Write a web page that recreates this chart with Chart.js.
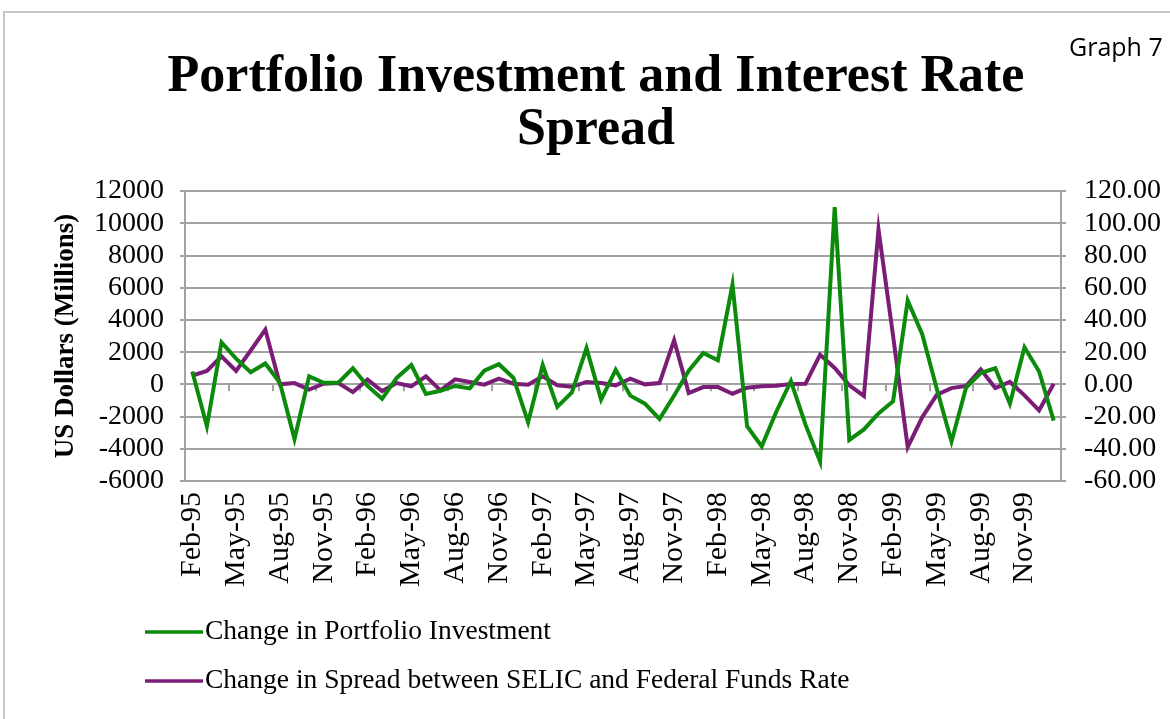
<!DOCTYPE html>
<html>
<head>
<meta charset="utf-8">
<title>Portfolio Investment and Interest Rate Spread</title>
<script src="https://cdn.jsdelivr.net/npm/chart.js@4.4.0/dist/chart.umd.min.js"></script>
<style>
  html, body { margin: 0; padding: 0; background: #fff; }
  #wrap { position: relative; width: 1170px; height: 719px; overflow: hidden; }
  #frame { position: absolute; left: 3px; top: 11px; width: 1300px; height: 800px;
           border-left: 2px solid #c8c8c8; border-top: 2px solid #c8c8c8; }
  #tag { position: absolute; left: 1069px; top: 29px; font: 25px "Open Sans", sans-serif; color: #000; }
  canvas { position: absolute; left: 0; top: 0; }
</style>
</head>
<body>
<div id="wrap">
  <div id="frame"></div>
  <canvas id="spreadChart" width="1170" height="719"></canvas>
  <div id="tag">Graph 7</div>
</div>
<script>
// Monthly changes, Feb-95 .. Jan-00
const monthNames = ['Jan', 'Feb', 'Mar', 'Apr', 'May', 'Jun', 'Jul', 'Aug', 'Sep', 'Oct', 'Nov', 'Dec'];
const months = [];
for (let k = 0; k < 60; k++) {
    const m = (1 + k) % 12;
    const yr = 95 + Math.floor((1 + k) / 12);
    months.push(monthNames[m] + '-' + String(yr % 100).padStart(2, '0'));
}

// US$ millions (left axis)
const portfolioChange = [
    800, -2600, 2600, 1600, 750, 1300, 100, -3400, 500, 100,
    100, 1000, -100, -900, 400, 1200, -600, -400, -100, -250,
    850, 1250, 400, -2350, 1200, -1400, -500, 2250, -950, 900,
    -700, -1200, -2150, -700, 850, 1950, 1500, 6200, -2600, -3850,
    -1700, 200, -2500, -4800, 11000, -3450, -2800, -1800, -1050, 5200,
    3100, -300, -3550, -200, 700, 1000, -1200, 2300, 800, -2250
];

// SELIC minus Fed Funds, change (right axis)
const spreadChange = [
    5.5, 8.3, 17.4, 8.3, 21, 34, 0, 0.8, -3.3, 0.4,
    0.8, -4.8, 2.9, -4.2, 0.8, -1.2, 5, -3.7, 3.1, 1.5,
    -0.2, 3.5, 0.4, -0.2, 5, -0.6, -1.5, 1.5, 0.8, -0.6,
    3.5, 0, 0.8, 27.4, -5.4, -1.7, -1.7, -5.8, -2.1, -1.2,
    -0.8, 0.2, 0.4, 18.4, 10.2, -0.6, -7.2, 96.2, 30, -39,
    -20.3, -6.4, -2.3, -1, 9.3, -2.3, 1.5, -6.8, -16.2, 0.4
];

const leftTicks = { min: -6000, max: 12000, step: 2000 };
const rightTicks = { min: -60, max: 120, step: 20 };

const gridGray = '#a3a3a3';
const serif = '"Liberation Serif", "Times New Roman", serif';

// small tick marks hanging from the zero line, one every quarter
const zeroLineTicks = {
    id: 'zeroLineTicks',
    beforeDatasetsDraw(chart) {
        const xs = chart.scales.x;
        const y0 = chart.scales.y.getPixelForValue(0);
        const step = xs.width / months.length;
        const ctx = chart.ctx;
        ctx.save();
        ctx.strokeStyle = gridGray;
        ctx.lineWidth = 2;
        for (let k = 3; k < months.length; k += 3) {
            const x = Math.round(xs.left + k * step);
            ctx.beginPath();
            ctx.moveTo(x, y0);
            ctx.lineTo(x, y0 + 7);
            ctx.stroke();
        }
        ctx.restore();
    }
};

// legend stacked below the axis labels
const stackedLegend = {
    id: 'stackedLegend',
    afterDraw(chart) {
        const ctx = chart.ctx;
        ctx.save();
        ctx.font = '27.5px ' + serif;
        ctx.textBaseline = 'middle';
        ctx.fillStyle = '#000';
        chart.data.datasets.forEach((ds, i) => {
            const y = 632 + i * 49;
            ctx.strokeStyle = ds.borderColor;
            ctx.lineWidth = 3.5;
            ctx.beginPath();
            ctx.moveTo(145, y);
            ctx.lineTo(203, y);
            ctx.stroke();
            ctx.fillText(ds.label, 205, y);
        });
        ctx.restore();
    }
};

const ctx = document.getElementById('spreadChart').getContext('2d');
new Chart(ctx, {
    type: 'line',
    data: {
        labels: months,
        datasets: [{
            label: 'Change in Portfolio Investment',
            data: portfolioChange,
            yAxisID: 'y',
            borderColor: '#0b8a0b',
            borderWidth: 4,
            pointRadius: 0,
            tension: 0,
            fill: false
        }, {
            label: 'Change in Spread between SELIC and Federal Funds Rate',
            data: spreadChange,
            yAxisID: 'y1',
            borderColor: '#7a1d77',
            borderWidth: 4,
            pointRadius: 0,
            tension: 0,
            fill: false
        }]
    },
    options: {
        responsive: false,
        animation: false,
        events: [],
        layout: { padding: { left: 22, right: 0, top: 0, bottom: 0 } },
        plugins: {
            legend: { display: false },
            tooltip: { enabled: false },
            title: {
                display: true,
                text: ['Portfolio Investment and Interest Rate', 'Spread'],
                color: '#000',
                font: { family: serif, size: 52, weight: 'bold', lineHeight: 1.02 },
                padding: { top: 51, bottom: 34 }
            }
        },
        scales: {
            x: {
                offset: true,
                grid: { display: false, drawTicks: false },
                border: { display: false },
                ticks: {
                    autoSkip: false,
                    minRotation: 90,
                    maxRotation: 90,
                    padding: 11,
                    color: '#000',
                    font: { family: serif, size: 30 },
                    callback: function (value, index) {
                        return index % 3 === 0 ? this.getLabelForValue(value) : '';
                    }
                },
                afterFit: (scale) => { scale.height = 719 - 481; }
            },
            y: {
                position: 'left',
                min: leftTicks.min,
                max: leftTicks.max,
                ticks: {
                    stepSize: leftTicks.step,
                    autoSkip: false,
                    padding: 16,
                    color: '#000',
                    font: { family: serif, size: 28 },
                    callback: (v) => String(v)
                },
                grid: { color: gridGray, lineWidth: 2, tickLength: 5 },
                border: { color: gridGray, width: 2 },
                title: {
                    display: true,
                    text: 'US Dollars (Millions)',
                    color: '#000',
                    font: { family: serif, size: 27, weight: 'bold' },
                    padding: { top: 28, bottom: 0 }
                },
                afterFit: (scale) => { scale.width = 163; }
            },
            y1: {
                position: 'right',
                min: rightTicks.min,
                max: rightTicks.max,
                ticks: {
                    stepSize: rightTicks.step,
                    autoSkip: false,
                    padding: 18,
                    color: '#000',
                    font: { family: serif, size: 28 },
                    callback: (v) => v.toFixed(2)
                },
                grid: { drawOnChartArea: false, color: gridGray, lineWidth: 2, tickLength: 5 },
                border: { color: gridGray, width: 2 },
                afterFit: (scale) => { scale.width = 109; }
            }
        }
    },
    plugins: [zeroLineTicks, stackedLegend]
});
</script>
</body>
</html>
